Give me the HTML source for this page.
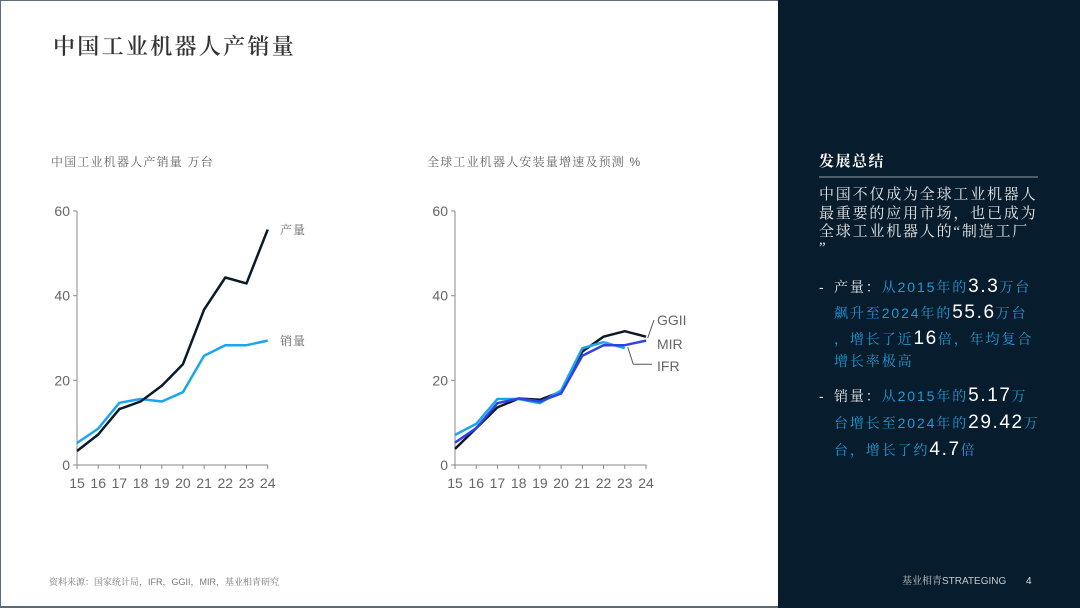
<!DOCTYPE html>
<html>
<head>
<meta charset="utf-8">
<style>
  html,body{margin:0;padding:0;}
  body{width:1080px;height:608px;position:relative;overflow:hidden;background:#fff;
       font-family:"Liberation Sans","Noto Serif CJK SC",serif;}
  .frame{position:absolute;left:0;top:0;width:1080px;height:608px;box-sizing:border-box;border:1px solid #5d6b79;border-bottom-width:2px;}
  .dark{position:absolute;left:778px;top:0;width:302px;height:608px;background:#071c2c;}
  .abs{position:absolute;white-space:nowrap;}
  .title{left:53px;top:32px;font-size:22px;letter-spacing:2.3px;color:#333;font-weight:600;font-family:"Liberation Serif","Noto Serif CJK SC",serif;line-height:30px;}
  .sub{font-size:12px;letter-spacing:1.2px;color:#666;font-family:"Liberation Sans","Noto Serif CJK SC",serif;line-height:16px;}
  .foot{left:49px;top:576px;font-size:9px;color:#777;line-height:12px;font-family:"Liberation Sans","Noto Serif CJK SC",serif;}
  .head{left:819px;top:152px;font-size:15px;font-weight:bold;color:#fff;letter-spacing:1.5px;line-height:20px;font-family:"Liberation Serif","Noto Serif CJK SC",serif;}
  .rule{position:absolute;left:819px;top:176px;width:219px;height:2px;background:#4f5c69;}
  .para{left:819px;font-size:15px;letter-spacing:1.8px;color:#e8e8e8;line-height:19px;font-family:"Liberation Serif","Noto Serif CJK SC",serif;}
  .bl{font-size:14px;letter-spacing:1.9px;color:#1f9ad8;line-height:24px;font-family:"Liberation Sans","Noto Serif CJK SC",serif;}
  .bl .w{color:#e8e8e8;}
  .bl .n{color:#fff;font-size:19px;font-family:"Liberation Sans",sans-serif;letter-spacing:1.6px;}
  .dash{left:819px;color:#e8e8e8;font-size:14px;line-height:24px;}
</style>
</head>
<body>
<div class="frame"></div>
<div class="dark"></div>

<div class="abs title">中国工业机器人产销量</div>
<div class="abs sub" style="left:51px;top:154px;">中国工业机器人产销量 万台</div>
<div class="abs sub" style="left:427px;top:154px;">全球工业机器人安装量增速及预测 %</div>

<svg class="abs" style="left:0;top:0" width="778" height="608" viewBox="0 0 778 608">
  <g font-family="Liberation Sans, sans-serif" font-size="14" fill="#666">
    <g stroke="#8a8a8a" stroke-width="1" fill="none">
      <line x1="77" y1="211" x2="77" y2="465"/>
      <line x1="77" y1="465" x2="268" y2="465"/>
      <line x1="73" y1="211" x2="77" y2="211"/>
      <line x1="73" y1="295.7" x2="77" y2="295.7"/>
      <line x1="73" y1="380.3" x2="77" y2="380.3"/>
      <line x1="73" y1="465" x2="77" y2="465"/>
      <line x1="77" y1="465" x2="77" y2="469"/>
      <line x1="98.2" y1="465" x2="98.2" y2="469"/>
      <line x1="119.4" y1="465" x2="119.4" y2="469"/>
      <line x1="140.6" y1="465" x2="140.6" y2="469"/>
      <line x1="161.8" y1="465" x2="161.8" y2="469"/>
      <line x1="182.9" y1="465" x2="182.9" y2="469"/>
      <line x1="204.1" y1="465" x2="204.1" y2="469"/>
      <line x1="225.3" y1="465" x2="225.3" y2="469"/>
      <line x1="246.5" y1="465" x2="246.5" y2="469"/>
      <line x1="267.7" y1="465" x2="267.7" y2="469"/>
    </g>
    <g text-anchor="end">
      <text x="70" y="216">60</text>
      <text x="70" y="300.7">40</text>
      <text x="70" y="385.3">20</text>
      <text x="70" y="470">0</text>
    </g>
    <g text-anchor="middle">
      <text x="77" y="488">15</text>
      <text x="98.2" y="488">16</text>
      <text x="119.4" y="488">17</text>
      <text x="140.6" y="488">18</text>
      <text x="161.8" y="488">19</text>
      <text x="182.9" y="488">20</text>
      <text x="204.1" y="488">21</text>
      <text x="225.3" y="488">22</text>
      <text x="246.5" y="488">23</text>
      <text x="267.7" y="488">24</text>
    </g>
    <polyline fill="none" stroke="#1aa6ee" stroke-width="2.5" stroke-linejoin="round"
      points="77,443 98.2,428.6 119.4,402.8 140.6,399 161.8,401.5 182.9,392.2 204.1,355.8 225.3,345.2 246.5,345.2 267.7,340.6"/>
    <polyline fill="none" stroke="#0b1a2b" stroke-width="2.5" stroke-linejoin="round"
      points="77,451 98.2,434.5 119.4,409.1 140.6,401.5 161.8,385.8 182.9,364.3 204.1,309.6 225.3,277.5 246.5,283.4 267.7,229.6"/>
    <text x="280" y="234" font-size="12" fill="#666" font-family="Liberation Serif, Noto Serif CJK SC, serif" letter-spacing="1">产量</text>
    <text x="280" y="345" font-size="12" fill="#666" font-family="Liberation Serif, Noto Serif CJK SC, serif" letter-spacing="1">销量</text>

    <g stroke="#8a8a8a" stroke-width="1" fill="none">
      <line x1="455" y1="211" x2="455" y2="465"/>
      <line x1="455" y1="465" x2="646.5" y2="465"/>
      <line x1="451" y1="211" x2="455" y2="211"/>
      <line x1="451" y1="295.7" x2="455" y2="295.7"/>
      <line x1="451" y1="380.3" x2="455" y2="380.3"/>
      <line x1="451" y1="465" x2="455" y2="465"/>
      <line x1="455" y1="465" x2="455" y2="469"/>
      <line x1="476.2" y1="465" x2="476.2" y2="469"/>
      <line x1="497.4" y1="465" x2="497.4" y2="469"/>
      <line x1="518.7" y1="465" x2="518.7" y2="469"/>
      <line x1="539.9" y1="465" x2="539.9" y2="469"/>
      <line x1="561.1" y1="465" x2="561.1" y2="469"/>
      <line x1="582.3" y1="465" x2="582.3" y2="469"/>
      <line x1="603.5" y1="465" x2="603.5" y2="469"/>
      <line x1="624.8" y1="465" x2="624.8" y2="469"/>
      <line x1="646" y1="465" x2="646" y2="469"/>
    </g>
    <g text-anchor="end">
      <text x="448" y="216">60</text>
      <text x="448" y="300.7">40</text>
      <text x="448" y="385.3">20</text>
      <text x="448" y="470">0</text>
    </g>
    <g text-anchor="middle">
      <text x="455" y="488">15</text>
      <text x="476.2" y="488">16</text>
      <text x="497.4" y="488">17</text>
      <text x="518.7" y="488">18</text>
      <text x="539.9" y="488">19</text>
      <text x="561.1" y="488">20</text>
      <text x="582.3" y="488">21</text>
      <text x="603.5" y="488">22</text>
      <text x="624.8" y="488">23</text>
      <text x="646" y="488">24</text>
    </g>
    <polyline fill="none" stroke="#0b1a2b" stroke-width="2.5" stroke-linejoin="round"
      points="455,448.9 476.2,428.2 497.4,407.4 518.7,398.5 539.9,399.8 561.1,391.8 582.3,351.6 603.5,336.7 624.8,331.2 646,336.7"/>
    <polyline fill="none" stroke="#1aa6ee" stroke-width="2.5" stroke-linejoin="round"
      points="455,434.9 476.2,423.9 497.4,399 518.7,399 539.9,403.2 561.1,390.5 582.3,348.2 603.5,342.2 624.8,348.2"/>
    <polyline fill="none" stroke="#2f42e2" stroke-width="2.5" stroke-linejoin="round"
      points="455,442.6 476.2,428.2 497.4,403.2 518.7,398.5 539.9,401.5 561.1,393.5 582.3,355.8 603.5,345.2 624.8,345.2 646,340.6"/>
    <g stroke="#555" stroke-width="1" fill="none">
      <polyline points="654,320 647.7,338"/>
      <polyline points="627.7,347 633.3,364.3 652,364.3"/>
    </g>
    <text x="657" y="325">GGII</text>
    <text x="657" y="349">MIR</text>
    <text x="657" y="371">IFR</text>
  </g>
</svg>

<div class="abs foot">资料来源：国家统计局，IFR，GGII，MIR，基业相青研究</div>

<div class="abs head">发展总结</div>
<div class="rule"></div>
<div class="abs para" style="top:186px;">中国不仅成为全球工业机器人</div>
<div class="abs para" style="top:205px;">最重要的应用市场，也已成为</div>
<div class="abs para" style="top:223px;">全球工业机器人的“制造工厂</div>
<div class="abs para" style="top:239px;">”</div>

<div class="abs dash" style="top:275px;">-</div>
<div class="abs bl" style="left:834px;top:275px;"><span class="w">产量：</span>从2015年的<span class="n">3.3</span>万台</div>
<div class="abs bl" style="left:834px;top:301px;">飙升至2024年的<span class="n">55.6</span>万台</div>
<div class="abs bl" style="left:834px;top:327px;">，增长了近<span class="n">16</span>倍，年均复合</div>
<div class="abs bl" style="left:834px;top:349px;">增长率极高</div>

<div class="abs dash" style="top:384px;">-</div>
<div class="abs bl" style="left:834px;top:384px;"><span class="w">销量：</span>从2015年的<span class="n">5.17</span>万</div>
<div class="abs bl" style="left:834px;top:411px;">台增长至2024年的<span class="n">29.42</span>万</div>
<div class="abs bl" style="left:834px;top:438px;">台，增长了约<span class="n">4.7</span>倍</div>

<div class="abs" style="left:902px;top:576px;font-size:10px;color:#c8c8c8;line-height:12px;font-family:'Liberation Sans','Noto Serif CJK SC',serif;">基业相青STRATEGING</div>
<div class="abs" style="left:1026px;top:576px;font-size:10px;color:#e0e0e0;line-height:12px;">4</div>
</body>
</html>
